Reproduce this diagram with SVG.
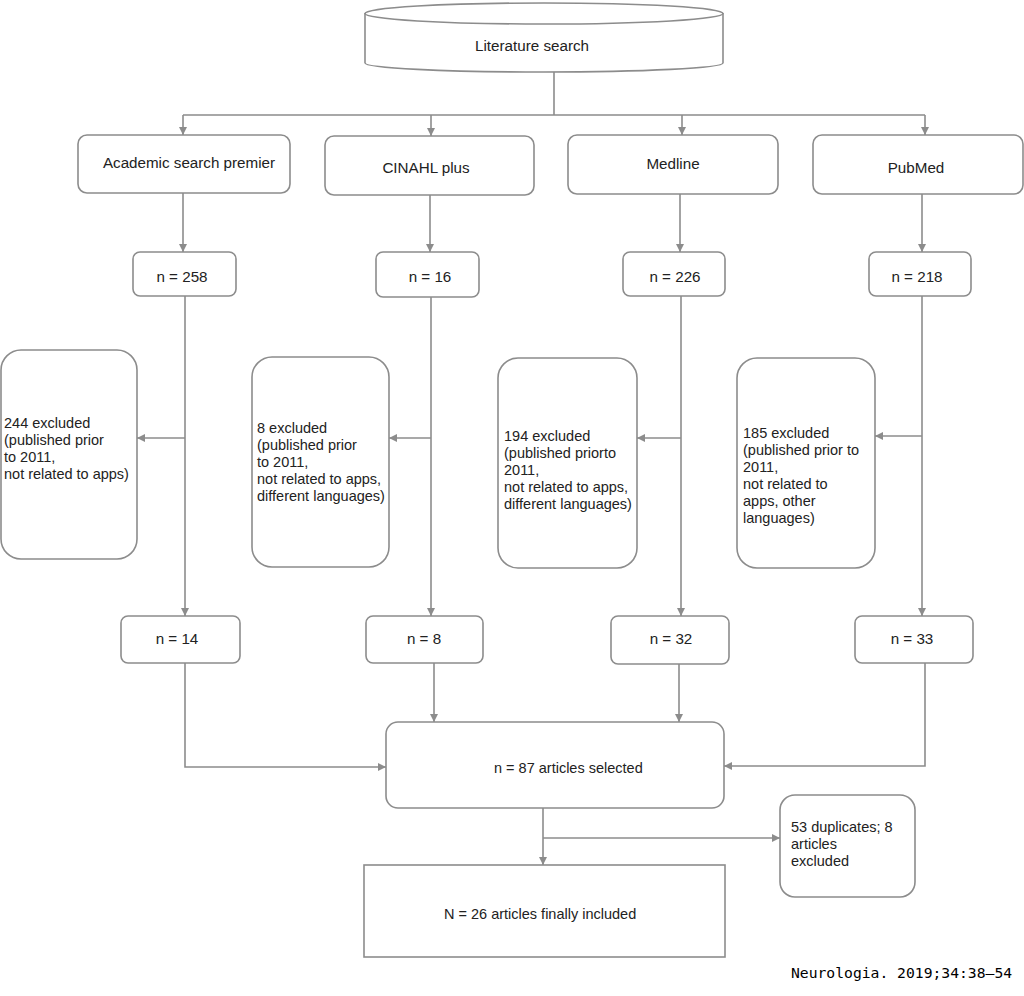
<svg xmlns="http://www.w3.org/2000/svg" width="1024" height="996" viewBox="0 0 1024 996">
<defs>
<marker id="ah" viewBox="0 0 10 10" refX="10" refY="5" markerWidth="9" markerHeight="8" orient="auto" markerUnits="userSpaceOnUse"><path d="M0,0 L10,5 L0,10 z" fill="#8c8c8c"/></marker>
<style>
.b{fill:#fff;stroke:#8c8c8c;stroke-width:1.6}
.c{fill:none;stroke:#8c8c8c;stroke-width:1.6}
.a{marker-end:url(#ah)}
text{font-family:"Liberation Sans",Arial,sans-serif;font-size:14.5px;fill:#222}
.m{text-anchor:middle;font-size:15.2px}
.f{font-family:"DejaVu Sans Mono",monospace;font-size:14.7px;fill:#000}
</style>
</defs>
<rect width="1024" height="996" fill="#fff"/>
<g id="connectors">
<path class="c" d="M554,72 V115 M183,115 H925"/>
<path class="c a" d="M183,115 V135"/>
<path class="c a" d="M431,115 V136"/>
<path class="c a" d="M682,115 V135"/>
<path class="c a" d="M925,115 V135"/>
<path class="c a" d="M183,193 V252"/>
<path class="c a" d="M430,195 V252"/>
<path class="c a" d="M680,194 V252"/>
<path class="c a" d="M922,194 V252"/>
<path class="c a" d="M185,296 V616"/>
<path class="c a" d="M431,297 V616"/>
<path class="c a" d="M681,296 V616"/>
<path class="c a" d="M922,296 V616"/>
<path class="c a" d="M185,438 H137"/>
<path class="c a" d="M431,438 H389"/>
<path class="c a" d="M681,438 H637"/>
<path class="c a" d="M922,436 H875"/>
<path class="c a" d="M185,663 V767 H386"/>
<path class="c a" d="M434,663 V722"/>
<path class="c a" d="M679,664 V722"/>
<path class="c a" d="M925,663 V766 H724"/>
<path class="c a" d="M543,808 V865"/>
<path class="c a" d="M543,838 H780"/>
</g>
<g id="literature-search">
<path class="b" d="M365,13 V63 A179,9 0 0 0 723,63 V13"/>
<ellipse class="b" cx="544" cy="13.5" rx="179" ry="10.5"/>
<text class="m" x="532" y="51">Literature search</text>
</g>
<g id="academic">
<rect class="b" x="78" y="135" width="212" height="58" rx="9"/>
<text class="m" x="189" y="168">Academic search premier</text>
</g>
<g id="cinahl">
<rect class="b" x="325" y="136" width="209" height="59" rx="9"/>
<text class="m" x="426" y="173">CINAHL plus</text>
</g>
<g id="medline">
<rect class="b" x="568" y="135" width="210" height="59" rx="9"/>
<text class="m" x="673" y="169">Medline</text>
</g>
<g id="pubmed">
<rect class="b" x="813" y="135" width="210" height="59" rx="9"/>
<text class="m" x="916" y="173">PubMed</text>
</g>
<g id="n258">
<rect class="b" x="133" y="252" width="103" height="44" rx="7"/>
<text class="m" x="182" y="282">n = 258</text>
</g>
<g id="n16">
<rect class="b" x="376" y="252" width="103" height="45" rx="7"/>
<text class="m" x="430" y="282">n = 16</text>
</g>
<g id="n226">
<rect class="b" x="623" y="252" width="102" height="44" rx="7"/>
<text class="m" x="675" y="282">n = 226</text>
</g>
<g id="n218">
<rect class="b" x="869" y="252" width="102" height="44" rx="7"/>
<text class="m" x="917" y="282">n = 218</text>
</g>
<g id="ex244">
<rect class="b" x="1" y="350" width="136" height="209" rx="20"/>
<text x="4"><tspan x="4" y="428">244 excluded</tspan><tspan x="4" y="445">(published prior</tspan><tspan x="4" y="462">to 2011,</tspan><tspan x="4" y="479">not related to apps)</tspan></text>
</g>
<g id="ex8">
<rect class="b" x="252" y="357" width="137" height="210" rx="20"/>
<text x="257"><tspan x="257" y="433">8 excluded</tspan><tspan x="257" y="450">(published prior</tspan><tspan x="257" y="467">to 2011,</tspan><tspan x="257" y="484">not related to apps,</tspan><tspan x="257" y="501">different languages)</tspan></text>
</g>
<g id="ex194">
<rect class="b" x="498" y="358" width="139" height="210" rx="20"/>
<text x="504"><tspan x="504" y="441">194 excluded</tspan><tspan x="504" y="458">(published priorto</tspan><tspan x="504" y="475">2011,</tspan><tspan x="504" y="492">not related to apps,</tspan><tspan x="504" y="509">different languages)</tspan></text>
</g>
<g id="ex185">
<rect class="b" x="737" y="358" width="138" height="210" rx="20"/>
<text x="743"><tspan x="743" y="438">185 excluded</tspan><tspan x="743" y="455">(published prior to</tspan><tspan x="743" y="472">2011,</tspan><tspan x="743" y="489">not related to</tspan><tspan x="743" y="506">apps, other</tspan><tspan x="743" y="523">languages)</tspan></text>
</g>
<g id="n14">
<rect class="b" x="121" y="616" width="119" height="47" rx="7"/>
<text class="m" x="177" y="644">n = 14</text>
</g>
<g id="n8">
<rect class="b" x="366" y="616" width="117" height="47" rx="7"/>
<text class="m" x="424" y="644">n = 8</text>
</g>
<g id="n32">
<rect class="b" x="611" y="616" width="118" height="48" rx="7"/>
<text class="m" x="671" y="644">n = 32</text>
</g>
<g id="n33">
<rect class="b" x="855" y="616" width="118" height="47" rx="7"/>
<text class="m" x="912" y="644">n = 33</text>
</g>
<g id="n87">
<rect class="b" x="386" y="722" width="338" height="86" rx="12"/>
<text x="494" y="773">n = 87 articles selected</text>
</g>
<g id="duplicates">
<rect class="b" x="780" y="795" width="135" height="102" rx="15"/>
<text x="791"><tspan x="791" y="832">53 duplicates; 8</tspan><tspan x="791" y="849">articles</tspan><tspan x="791" y="866">excluded</tspan></text>
</g>
<g id="final">
<rect class="b" x="364" y="865" width="361" height="92"/>
<text x="444" y="919">N = 26 articles finally included</text>
</g>
<text class="f" x="791" y="978">Neurologia. 2019;34:38–54</text>
</svg>
